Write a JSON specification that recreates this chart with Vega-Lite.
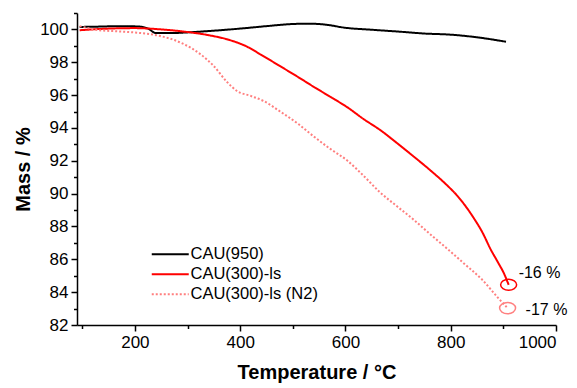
{
  "$schema": "https://vega.github.io/schema/vega-lite/v6.json",
  "width": 479,
  "height": 312,
  "autosize": {"type": "none"},
  "padding": {"left": 77, "top": 13, "right": 21, "bottom": 63},
  "background": "white",
  "config": {
    "view": {"stroke": null},
    "font": "Liberation Sans",
    "axis": {
      "grid": false,
      "domainColor": "#000000",
      "domainWidth": 1.5,
      "tickColor": "#000000",
      "tickWidth": 1.5,
      "labelFont": "Liberation Sans",
      "labelFontSize": 17,
      "labelColor": "#000000",
      "titleFont": "Liberation Sans",
      "titleFontSize": 20,
      "titleFontWeight": "bold",
      "titleColor": "#000000"
    },
    "legend": {
      "orient": "none",
      "legendX": 85,
      "legendY": 233,
      "labelFont": "Liberation Sans",
      "labelFontSize": 16.5,
      "labelColor": "#000000",
      "symbolType": "M-3.7,0L3.7,0",
      "symbolSize": 100,
      "symbolStrokeWidth": 2,
      "rowPadding": 3,
      "labelOffset": 12,
      "title": null
    }
  },
  "datasets": {
    "curves": [
      {"series": "CAU(950)", "T": 95, "mass": 100.15},
      {"series": "CAU(950)", "T": 130, "mass": 100.17},
      {"series": "CAU(950)", "T": 170, "mass": 100.2},
      {"series": "CAU(950)", "T": 205, "mass": 100.18},
      {"series": "CAU(950)", "T": 225, "mass": 100.05},
      {"series": "CAU(950)", "T": 240, "mass": 99.78},
      {"series": "CAU(950)", "T": 270, "mass": 99.78},
      {"series": "CAU(950)", "T": 300, "mass": 99.82},
      {"series": "CAU(950)", "T": 340, "mass": 99.9},
      {"series": "CAU(950)", "T": 400, "mass": 100.05},
      {"series": "CAU(950)", "T": 450, "mass": 100.2},
      {"series": "CAU(950)", "T": 500, "mass": 100.33},
      {"series": "CAU(950)", "T": 530, "mass": 100.35},
      {"series": "CAU(950)", "T": 560, "mass": 100.3},
      {"series": "CAU(950)", "T": 600, "mass": 100.1},
      {"series": "CAU(950)", "T": 650, "mass": 99.98},
      {"series": "CAU(950)", "T": 700, "mass": 99.87},
      {"series": "CAU(950)", "T": 750, "mass": 99.75},
      {"series": "CAU(950)", "T": 800, "mass": 99.68},
      {"series": "CAU(950)", "T": 850, "mass": 99.52},
      {"series": "CAU(950)", "T": 905, "mass": 99.25},
      {"series": "CAU(300)-ls", "T": 95, "mass": 99.95},
      {"series": "CAU(300)-ls", "T": 150, "mass": 100.05},
      {"series": "CAU(300)-ls", "T": 200, "mass": 100.08},
      {"series": "CAU(300)-ls", "T": 250, "mass": 100.0},
      {"series": "CAU(300)-ls", "T": 290, "mass": 99.88},
      {"series": "CAU(300)-ls", "T": 340, "mass": 99.65},
      {"series": "CAU(300)-ls", "T": 375, "mass": 99.4},
      {"series": "CAU(300)-ls", "T": 413, "mass": 98.95},
      {"series": "CAU(300)-ls", "T": 440, "mass": 98.45},
      {"series": "CAU(300)-ls", "T": 476, "mass": 97.76},
      {"series": "CAU(300)-ls", "T": 510, "mass": 97.1},
      {"series": "CAU(300)-ls", "T": 540, "mass": 96.5},
      {"series": "CAU(300)-ls", "T": 571, "mass": 95.9},
      {"series": "CAU(300)-ls", "T": 604, "mass": 95.25},
      {"series": "CAU(300)-ls", "T": 634, "mass": 94.55},
      {"series": "CAU(300)-ls", "T": 667, "mass": 93.85},
      {"series": "CAU(300)-ls", "T": 699, "mass": 93.05},
      {"series": "CAU(300)-ls", "T": 730, "mass": 92.25},
      {"series": "CAU(300)-ls", "T": 762, "mass": 91.4},
      {"series": "CAU(300)-ls", "T": 790, "mass": 90.6},
      {"series": "CAU(300)-ls", "T": 813, "mass": 89.85},
      {"series": "CAU(300)-ls", "T": 844, "mass": 88.5},
      {"series": "CAU(300)-ls", "T": 860, "mass": 87.65},
      {"series": "CAU(300)-ls", "T": 876, "mass": 86.6},
      {"series": "CAU(300)-ls", "T": 890, "mass": 85.8},
      {"series": "CAU(300)-ls", "T": 901, "mass": 85.15},
      {"series": "CAU(300)-ls", "T": 910, "mass": 84.45},
      {"series": "CAU(300)-ls (N2)", "T": 95, "mass": 100.2},
      {"series": "CAU(300)-ls (N2)", "T": 133, "mass": 99.95},
      {"series": "CAU(300)-ls (N2)", "T": 170, "mass": 99.88},
      {"series": "CAU(300)-ls (N2)", "T": 204, "mass": 99.8},
      {"series": "CAU(300)-ls (N2)", "T": 248, "mass": 99.6},
      {"series": "CAU(300)-ls (N2)", "T": 290, "mass": 99.15},
      {"series": "CAU(300)-ls (N2)", "T": 324, "mass": 98.5},
      {"series": "CAU(300)-ls (N2)", "T": 349, "mass": 97.8},
      {"series": "CAU(300)-ls (N2)", "T": 375, "mass": 96.8},
      {"series": "CAU(300)-ls (N2)", "T": 394, "mass": 96.25},
      {"series": "CAU(300)-ls (N2)", "T": 420, "mass": 95.95},
      {"series": "CAU(300)-ls (N2)", "T": 444, "mass": 95.65},
      {"series": "CAU(300)-ls (N2)", "T": 476, "mass": 95.0},
      {"series": "CAU(300)-ls (N2)", "T": 510, "mass": 94.25},
      {"series": "CAU(300)-ls (N2)", "T": 539, "mass": 93.5},
      {"series": "CAU(300)-ls (N2)", "T": 570, "mass": 92.75},
      {"series": "CAU(300)-ls (N2)", "T": 604, "mass": 92.0},
      {"series": "CAU(300)-ls (N2)", "T": 634, "mass": 91.1},
      {"series": "CAU(300)-ls (N2)", "T": 665, "mass": 90.1},
      {"series": "CAU(300)-ls (N2)", "T": 699, "mass": 89.2},
      {"series": "CAU(300)-ls (N2)", "T": 730, "mass": 88.4},
      {"series": "CAU(300)-ls (N2)", "T": 762, "mass": 87.5},
      {"series": "CAU(300)-ls (N2)", "T": 795, "mass": 86.6},
      {"series": "CAU(300)-ls (N2)", "T": 825, "mass": 85.75},
      {"series": "CAU(300)-ls (N2)", "T": 860, "mass": 84.75},
      {"series": "CAU(300)-ls (N2)", "T": 890, "mass": 83.65},
      {"series": "CAU(300)-ls (N2)", "T": 908, "mass": 83.03}
    ],
    "ends": [
      {"series": "CAU(300)-ls", "T": 910, "mass": 84.45, "label": "-16 %"},
      {"series": "CAU(300)-ls (N2)", "T": 908, "mass": 83.03, "label": "-17 %"}
    ]
  },
  "layer": [
    {
      "data": {"name": "curves"},
      "mark": {"type": "line", "strokeWidth": 2, "interpolate": "monotone"},
      "encoding": {
        "x": {
          "field": "T", "type": "quantitative",
          "scale": {"domain": [90, 1000], "nice": false, "zero": false},
          "axis": {"values": [200, 400, 600, 800, 1000], "format": "d", "tickSize": 6, "labelPadding": 3, "title": "Temperature / °C", "titlePadding": 12, "orient": "bottom"}
        },
        "y": {
          "field": "mass", "type": "quantitative",
          "scale": {"domain": [82, 101], "nice": false, "zero": false},
          "axis": {"values": [82, 84, 86, 88, 90, 92, 94, 96, 98, 100], "format": "d", "tickSize": 6, "labelPadding": 3, "title": "Mass / %", "titlePadding": 6, "orient": "left"}
        },
        "color": {
          "field": "series", "type": "nominal",
          "scale": {"domain": ["CAU(950)", "CAU(300)-ls", "CAU(300)-ls (N2)"], "range": ["#000000", "#ff0000", "#ff7f7f"]},
          "legend": {}
        },
        "strokeDash": {
          "field": "series", "type": "nominal",
          "scale": {"domain": ["CAU(950)", "CAU(300)-ls", "CAU(300)-ls (N2)"], "range": [[1, 0], [1, 0], [2, 2]]},
          "legend": {}
        }
      }
    },
    {
      "data": {"name": "ends"},
      "mark": {"type": "point", "shape": "M-1,0A1,0.7,0,1,1,1,0A1,0.7,0,1,1,-1,0Z", "size": 256, "filled": false, "strokeWidth": 1.5, "opacity": 1},
      "encoding": {
        "x": {"field": "T", "type": "quantitative", "axis": {"values": [100, 300, 500, 700, 900], "tickSize": 3.5, "labels": false, "domain": false, "title": null, "orient": "bottom"}},
        "y": {"field": "mass", "type": "quantitative", "axis": {"values": [83, 85, 87, 89, 91, 93, 95, 97, 99, 101], "tickSize": 3.5, "labels": false, "domain": false, "title": null, "orient": "left"}},
        "stroke": {
          "field": "series", "type": "nominal",
          "scale": {"domain": ["CAU(300)-ls", "CAU(300)-ls (N2)"], "range": ["#ff0000", "#ff8080"]},
          "legend": null
        }
      }
    },
    {
      "data": {"name": "ends"},
      "transform": [{"filter": {"field": "label", "equal": "-16 %"}}],
      "mark": {"type": "text", "align": "left", "baseline": "middle", "dx": 10, "dy": -12, "fontSize": 16, "color": "#000000"},
      "encoding": {
        "x": {"field": "T", "type": "quantitative", "axis": null},
        "y": {"field": "mass", "type": "quantitative", "axis": null},
        "text": {"field": "label"}
      }
    },
    {
      "data": {"name": "ends"},
      "transform": [{"filter": {"field": "label", "equal": "-17 %"}}],
      "mark": {"type": "text", "align": "left", "baseline": "middle", "dx": 18, "dy": 2, "fontSize": 16, "color": "#000000"},
      "encoding": {
        "x": {"field": "T", "type": "quantitative", "axis": null},
        "y": {"field": "mass", "type": "quantitative", "axis": null},
        "text": {"field": "label"}
      }
    }
  ],
  "resolve": {"axis": {"x": "independent", "y": "independent"}}
}
